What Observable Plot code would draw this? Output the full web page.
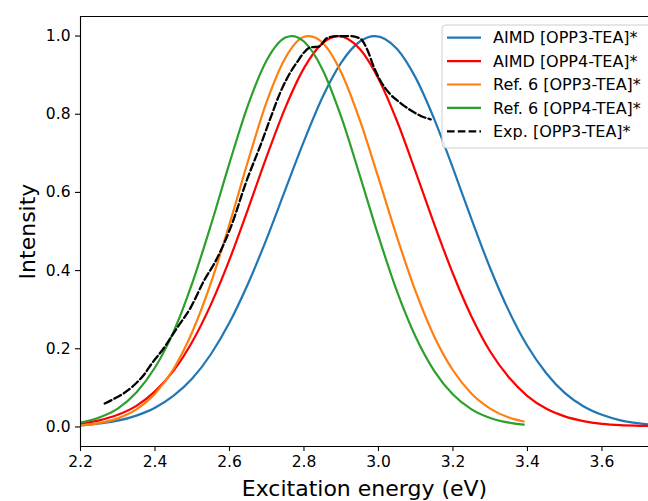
<!DOCTYPE html>
<html><head><meta charset="utf-8">
<script src="https://cdn.jsdelivr.net/npm/d3@7"></script>
<script src="https://cdn.jsdelivr.net/npm/@observablehq/plot@0.6"></script>
<style>
body{margin:0;background:#fff}
#chart{position:relative;width:648px;height:501px;overflow:hidden}
</style>
</head><body><div id="chart"></div>
<script>
// ---- data ----
const seriesNames = ["AIMD [OPP3-TEA]*", "AIMD [OPP4-TEA]*", "Ref. 6 [OPP3-TEA]*", "Ref. 6 [OPP4-TEA]*", "Exp. [OPP3-TEA]*"];
const seriesColors = ["#1f77b4", "#ff0000", "#ff7f0e", "#2ca02c", "#000000"];

const aimdOpp3X = [2.20,2.25,2.30,2.35,2.40,2.45,2.50,2.55,2.60,2.65,2.70,2.75,2.80,2.85,2.90,2.95,2.99,3.05,3.10,3.15,3.20,3.25,3.30,3.35,3.40,3.45,3.50,3.55,3.60,3.65,3.70,3.75];
const aimdOpp3Y = [0.004,0.009,0.016,0.029,0.049,0.080,0.124,0.186,0.267,0.367,0.482,0.607,0.731,0.844,0.932,0.986,1.000,0.967,0.893,0.787,0.662,0.531,0.406,0.297,0.207,0.138,0.087,0.053,0.031,0.017,0.009,0.004];

const aimdOpp4X = [2.20,2.25,2.30,2.35,2.40,2.45,2.50,2.55,2.60,2.65,2.70,2.75,2.80,2.85,2.892,2.95,3.00,3.05,3.10,3.15,3.20,3.25,3.30,3.35,3.40,3.45,3.50,3.55,3.60,3.65,3.70,3.75];
const aimdOpp4Y = [0.009,0.017,0.031,0.054,0.091,0.144,0.218,0.313,0.428,0.558,0.692,0.817,0.918,0.982,1.000,0.967,0.891,0.782,0.652,0.518,0.392,0.282,0.193,0.127,0.079,0.047,0.027,0.015,0.008,0.0045,0.003,0.002];

const ref6Opp3X = [2.20,2.25,2.30,2.35,2.40,2.45,2.50,2.55,2.60,2.65,2.70,2.75,2.80,2.813,2.85,2.90,2.95,3.00,3.05,3.10,3.15,3.20,3.25,3.30,3.35,3.39];
const ref6Opp3Y = [0.004,0.010,0.022,0.045,0.085,0.149,0.243,0.368,0.519,0.681,0.832,0.944,0.998,1.000,0.983,0.907,0.785,0.637,0.485,0.346,0.231,0.145,0.085,0.047,0.024,0.014];

const ref6Opp4X = [2.20,2.25,2.30,2.35,2.40,2.45,2.50,2.55,2.60,2.65,2.70,2.75,2.768,2.80,2.85,2.90,2.95,3.00,3.05,3.10,3.15,3.20,3.25,3.30,3.35,3.39];
const ref6Opp4Y = [0.011,0.024,0.047,0.088,0.152,0.244,0.368,0.516,0.675,0.824,0.938,0.996,1.000,0.986,0.914,0.793,0.643,0.488,0.346,0.230,0.143,0.083,0.045,0.023,0.011,0.006];

const expOpp3X = [2.265,2.29,2.316,2.345,2.37,2.392,2.424,2.459,2.495,2.531,2.567,2.603,2.648,2.683,2.71,2.737,2.764,2.782,2.80,2.817,2.84,2.862,2.89,2.925,2.952,2.97,2.988,3.005,3.03,3.06,3.09,3.115,3.14];
const expOpp3Y = [0.060,0.072,0.086,0.108,0.133,0.163,0.202,0.253,0.304,0.373,0.432,0.510,0.635,0.720,0.790,0.857,0.908,0.934,0.958,0.971,0.973,0.995,1.000,1.000,0.993,0.965,0.920,0.886,0.853,0.828,0.808,0.795,0.787];

const xTicks = [2.2,2.4,2.6,2.8,3.0,3.2,3.4,3.6];
const yTicks = [0.0,0.2,0.4,0.6,0.8,1.0];
const xDomain = [2.2, 3.725];
const yDomain = [-0.05, 1.05];
const xLabel = "Excitation energy (eV)";
const yLabel = "Intensity";

// ---- build tables ----
const solidSeries = [
  [seriesNames[0], aimdOpp3X, aimdOpp3Y],
  [seriesNames[1], aimdOpp4X, aimdOpp4Y],
  [seriesNames[2], ref6Opp3X, ref6Opp3Y],
  [seriesNames[3], ref6Opp4X, ref6Opp4Y]
];
const solidRows = solidSeries.flatMap(([name, xs, ys]) => xs.map((x, i) => ({series: name, x, y: ys[i]})));
const expRows = expOpp3X.map((x, i) => ({series: seriesNames[4], x, y: expOpp3Y[i]}));

const FONT = "DejaVu Sans, Liberation Sans, sans-serif";
const TICK_FS = 15.5;

const svg = Plot.plot({
  width: 648,
  height: 501,
  marginLeft: 80,
  marginRight: 0,
  marginTop: 16,
  marginBottom: 55,
  style: {fontFamily: FONT, fontSize: TICK_FS + "px", background: "#fff", color: "#000"},
  x: {domain: xDomain, axis: null},
  y: {domain: yDomain, axis: null},
  color: {type: "ordinal", domain: seriesNames, range: seriesColors},
  marks: [
    Plot.line(solidRows, {x: "x", y: "y", z: "series", stroke: "series", strokeWidth: 2.2, curve: "monotone-x", clip: true}),
    Plot.line(expRows, {x: "x", y: "y", stroke: "series", strokeWidth: 2.3, strokeDasharray: "7.6,3.2", curve: "monotone-x", clip: true}),
    Plot.axisX({ticks: xTicks, tickFormat: d => d.toFixed(1), tickSize: 5, tickPadding: 4, fontSize: TICK_FS, label: null, stroke: "#000", strokeWidth: 1.1}),
    Plot.axisY({ticks: yTicks, tickFormat: d => d.toFixed(1), tickSize: 5, tickPadding: 5, fontSize: TICK_FS, label: null, stroke: "#000", strokeWidth: 1.1}),
    Plot.ruleX([xDomain[0]], {stroke: "#000", strokeWidth: 1.1}),
    Plot.ruleY([yDomain[0]], {stroke: "#000", strokeWidth: 1.1}),
    Plot.ruleY([yDomain[1]], {stroke: "#000", strokeWidth: 1.1}),
    Plot.text([xLabel], {text: d => d, frameAnchor: "bottom", textAnchor: "middle", lineAnchor: "middle", dy: 42, fontSize: 22}),
    Plot.text([yLabel], {text: d => d, frameAnchor: "left", textAnchor: "middle", lineAnchor: "middle", rotate: -90, dx: -53, fontSize: 22})
  ]
});

// enforce tick label size
d3.select(svg).selectAll('g[aria-label$="tick label"]').attr("font-size", TICK_FS)
  .selectAll("text").style("font-size", TICK_FS + "px");

// ---- legend (drawn inside the svg, upper right) ----
const color = svg.scale("color");
const lg = d3.select(svg).append("g")
  .attr("font-family", FONT).attr("font-size", 16).attr("text-anchor", "start");
lg.append("rect")
  .attr("x", 442).attr("y", 25).attr("width", 215).attr("height", 123).attr("rx", 4)
  .attr("fill", "#fff").attr("fill-opacity", 0.85).attr("stroke", "#cccccc").attr("stroke-width", 1);
seriesNames.forEach((name, i) => {
  const cy = 37.7 + i * 23.4;
  lg.append("line").attr("x1", 447).attr("x2", 481).attr("y1", cy).attr("y2", cy)
    .attr("stroke", color.apply(name)).attr("stroke-width", 2.2)
    .attr("stroke-dasharray", i === 4 ? "7.6,3.2" : null);
  lg.append("text").attr("x", 493).attr("y", cy).attr("dy", "0.35em")
    .attr("text-anchor", "start").attr("fill", "#000").style("font-size", "16px").text(name);
});

document.getElementById("chart").appendChild(svg);
</script>
</body></html>
